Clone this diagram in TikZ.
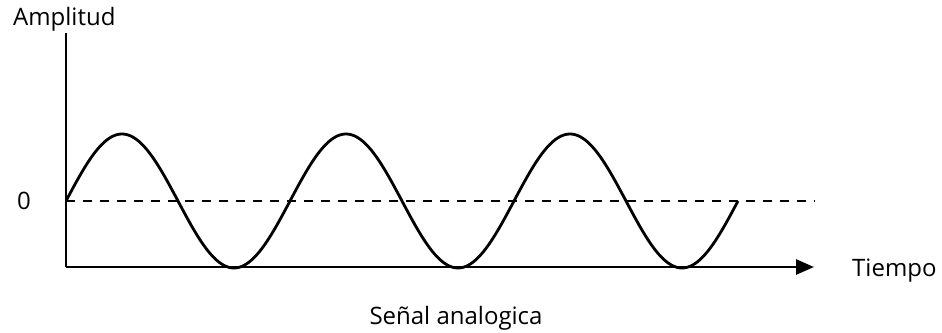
\documentclass[tikz,border=0pt]{standalone}
\usepackage{fontspec}
\setmainfont{Open Sans}
\usetikzlibrary{arrows.meta}
\begin{document}
\begin{tikzpicture}[x=1pt,y=-1pt,
  axis/.style={line width=2.8pt},
  wave/.style={line width=2.8pt},
  zeroline/.style={line width=2.8pt, dash pattern=on 9pt off 8pt},
  lbl/.style={font=\fontsize{24}{28}\selectfont, inner sep=0pt}]
\useasboundingbox (0,0) rectangle (942,332);
\coordinate (o) at (66,267);
\coordinate (ytop) at (66,33);
\coordinate (xend) at (814,267);
\coordinate (z0) at (66,201);
\coordinate (z1) at (815,201);
\draw[zeroline] (z0) -- (z1);
\draw[wave] plot[domain=66:738, samples=300, smooth] (\x, {201-67*sin((\x-66)*1.607142857)});
\draw[axis] (ytop) -- (o);
\draw[axis, -{Triangle[length=18pt,width=15pt]}] (o) -- (xend);
\node[lbl, anchor=base west] (amp) at (13,25) {Amplitud};
\node[lbl, anchor=base west] (zero) at (17,209) {0};
\node[lbl, anchor=base west] (tiempo) at (852,276) {Tiempo};
\node[lbl, anchor=base] (title) at (456,324) {Señal analogica};
\end{tikzpicture}
\end{document}
